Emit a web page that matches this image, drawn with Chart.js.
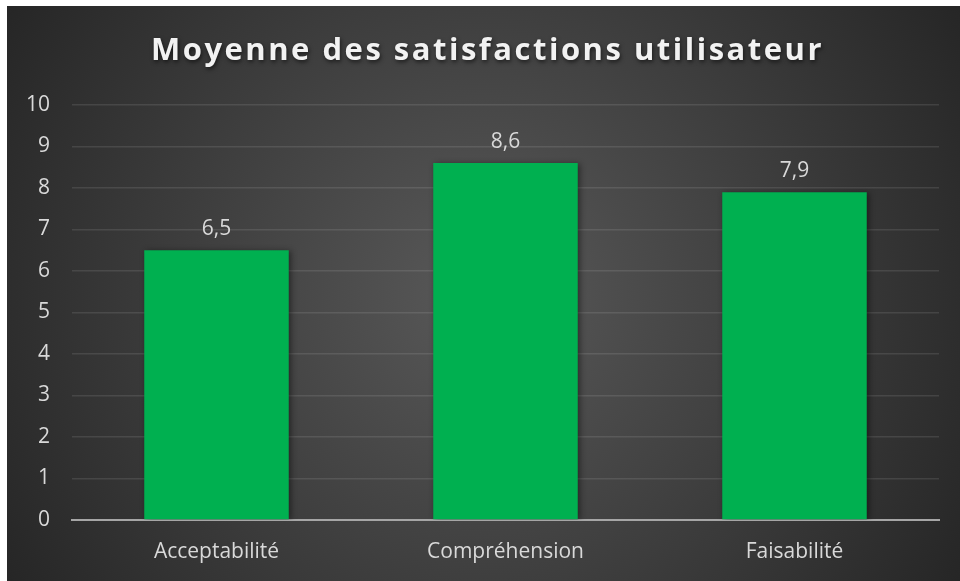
<!DOCTYPE html>
<html>
<head>
<meta charset="utf-8">
<script src="https://cdn.jsdelivr.net/npm/chart.js@4.4.1/dist/chart.umd.min.js"></script>
<style>
  html, body { margin: 0; padding: 0; background: #fff; }
  #wrap { position: absolute; left: 7px; top: 6px; width: 953px; height: 575px; }
</style>
</head>
<body>
<div id="wrap"><canvas id="satChart" width="953" height="575"></canvas></div>
<script>
// data
const categories = ['Acceptabilité', 'Compréhension', 'Faisabilité'];
const satisfaction = [6.5, 8.6, 7.9];
const yTicks = [0, 1, 2, 3, 4, 5, 6, 7, 8, 9, 10];
const chartTitle = 'Moyenne des satisfactions utilisateur';

const FONT = '"Open Sans", "Noto Sans", sans-serif';
const TEXT_COLOR = '#d9d9d9';

// dark radial background
const bgPlugin = {
    id: 'bg',
    beforeDraw(chart) {
        const { ctx, width, height } = chart;
        const g = ctx.createRadialGradient(width / 2, height / 2, 0, width / 2, height / 2, Math.hypot(width, height) / 2);
        g.addColorStop(0, '#595959');
        g.addColorStop(1, '#262626');
        ctx.save();
        ctx.fillStyle = g;
        ctx.fillRect(0, 0, width, height);
        ctx.restore();
    }
};

// title with letter spacing and a soft shadow
const titlePlugin = {
    id: 'fancyTitle',
    afterDraw(chart) {
        const { ctx, width } = chart;
        ctx.save();
        ctx.font = 'bold 31px ' + FONT;
        ctx.letterSpacing = '2.5px';
        ctx.textAlign = 'center';
        ctx.textBaseline = 'middle';
        ctx.shadowColor = 'rgba(0,0,0,0.6)';
        ctx.shadowBlur = 4;
        ctx.shadowOffsetX = 1;
        ctx.shadowOffsetY = 2;
        ctx.fillStyle = '#f2f2f2';
        ctx.fillText(chartTitle, width / 2 + 4, 45);
        ctx.restore();
    }
};

// value labels above bars, French decimal comma
const valueLabels = {
    id: 'valueLabels',
    afterDatasetsDraw(chart) {
        const { ctx } = chart;
        const meta = chart.getDatasetMeta(0);
        ctx.save();
        ctx.font = '21px ' + FONT;
        ctx.fillStyle = TEXT_COLOR;
        ctx.textAlign = 'center';
        ctx.textBaseline = 'middle';
        meta.data.forEach((bar, i) => {
            const txt = String(satisfaction[i]).replace('.', ',');
            ctx.fillText(txt, bar.x, bar.y - 21);
        });
        ctx.restore();
    }
};

// subtle shadow behind bars
const barShadow = {
    id: 'barShadow',
    beforeDatasetsDraw(chart) {
        const ctx = chart.ctx;
        ctx.save();
        ctx.shadowColor = 'rgba(0,0,0,0.45)';
        ctx.shadowBlur = 6;
        ctx.shadowOffsetX = 2;
        ctx.shadowOffsetY = 1;
    },
    afterDatasetsDraw(chart) {
        chart.ctx.restore();
    }
};

const ctx = document.getElementById('satChart').getContext('2d');
new Chart(ctx, {
    type: 'bar',
    data: {
        labels: categories,
        datasets: [{
            label: 'Satisfaction',
            data: satisfaction,
            backgroundColor: '#00b050',
            borderWidth: 0,
            barPercentage: 1,
            categoryPercentage: 0.5
        }]
    },
    options: {
        responsive: false,
        animation: false,
        layout: { padding: { top: 99, right: 21, bottom: 0, left: 0 } },
        plugins: {
            legend: { display: false },
            title: { display: false },
            tooltip: { enabled: false }
        },
        scales: {
            x: {
                grid: { display: false, drawTicks: false },
                border: { display: true, color: '#a6a6a6', width: 2 },
                ticks: { color: TEXT_COLOR, font: { family: FONT, size: 21 }, padding: 19 },
                afterFit(scale) { scale.height = 61; }
            },
            y: {
                min: 0,
                max: 10,
                afterBuildTicks(scale) { scale.ticks = yTicks.map(v => ({ value: v })); },
                grid: { color: 'rgba(255,255,255,0.1)', lineWidth: 1.5, drawTicks: false },
                border: { display: false },
                ticks: { color: TEXT_COLOR, font: { family: FONT, size: 21 }, padding: 22 },
                afterFit(scale) { scale.width = 65; }
            }
        }
    },
    plugins: [bgPlugin, barShadow, valueLabels, titlePlugin]
});
</script>
</body>
</html>
